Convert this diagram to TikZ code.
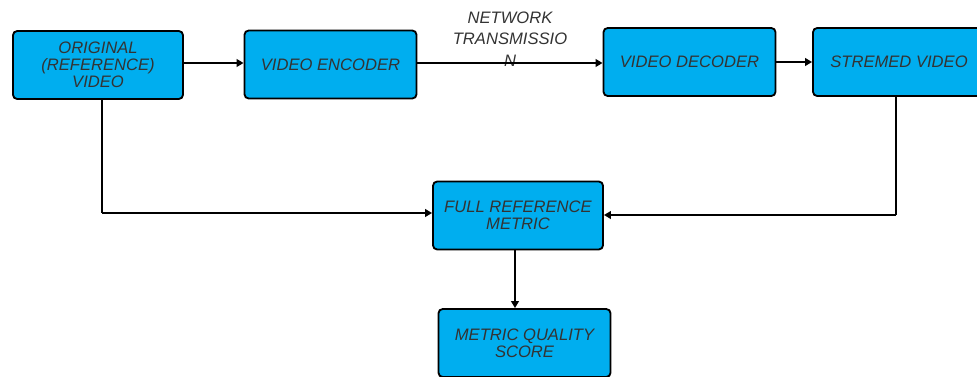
\documentclass[tikz,border=0pt]{standalone}
\usepackage{fontspec}
\setmainfont{Liberation Sans}
\usetikzlibrary{arrows.meta, positioning}
\definecolor{boxblue}{HTML}{00AEEF}
\definecolor{txtgray}{HTML}{333333}

\begin{document}
\begin{tikzpicture}[
    x=0.025cm, y=-0.025cm,
    box/.style={draw, line width=1.3pt, rounded corners=3pt, fill=boxblue, text=txtgray,
        minimum width=4.3cm, minimum height=1.7cm, align=center,
        font=\fontsize{11.8}{12}\selectfont\itshape},
    arr/.style={-{Triangle[length=5pt, width=5.5pt]}, line width=1.3pt},
    wire/.style={line width=1.3pt}
]
\useasboundingbox (0,0) rectangle (977,376);
\begin{scope}
\clip (0,0) rectangle (977,376);
\node[box, minimum width=4.25cm] (orig) at (98,65) {ORIGINAL\\(REFERENCE)\\VIDEO};
\node[box] (enc) at (330.5,64.5) {VIDEO ENCODER};
\node[box] (dec) at (689.5,62) {VIDEO DECODER};
\node[box] (strm) at (899,62) {STREMED VIDEO};
\node[box, minimum width=4.25cm] (frm) at (518,215.5) {FULL REFERENCE\\METRIC};
\node[box] (score) at (524.5,343) {METRIC QUALITY\\SCORE};
\node[text=txtgray, align=center, font=\fontsize{11.8}{15.5}\selectfont\itshape]
    (net) at (510,39) {NETWORK\\TRANSMISSIO\\N};

\coordinate (origdn) at (102,213);
\coordinate (strmdn) at (896,215);

\draw[arr] (orig.east |- 0,63) -- (enc.west |- 0,63);
\draw[arr] (enc.east |- 0,63) -- (dec.west |- 0,63);
\draw[arr] (dec) -- (strm);
\draw[wire] (orig.south -| origdn) -- (origdn);
\draw[arr] (origdn) -- (frm.west |- origdn);
\draw[wire] (strm.south -| strmdn) -- (strmdn);
\draw[arr] (strmdn) -- (frm.east |- strmdn);
\draw[arr] (frm.south -| 515,0) -- (score.north -| 515,0);
\end{scope}
\end{tikzpicture}
\end{document}
